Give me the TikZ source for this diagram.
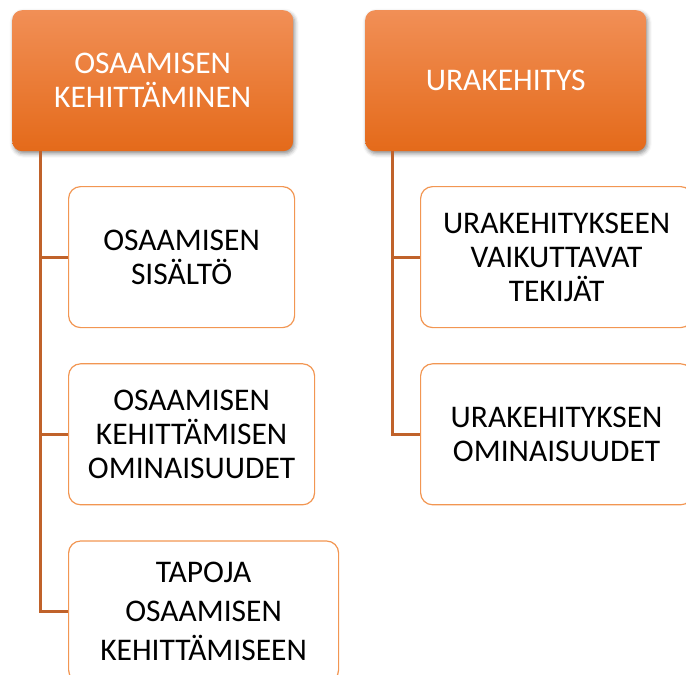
\documentclass[tikz,border=0pt]{standalone}
\usepackage{fontspec}
\setmainfont{Carlito}
\usepackage{tikz}
\usetikzlibrary{positioning,shadows,shadows.blur}
\usepackage{xcolor}
\definecolor{HeadTop}{RGB}{241,143,86}
\definecolor{HeadBottom}{RGB}{228,106,26}
\definecolor{BoxLine}{RGB}{242,150,82}
\definecolor{LinkLine}{RGB}{192,98,42}

\begin{document}
\begin{tikzpicture}[x=1pt, y=-1pt,
    head/.style={rectangle, rounded corners=10pt, top color=HeadTop, bottom color=HeadBottom,
        minimum width=281pt, minimum height=141pt, font=\fontsize{31.5}{34}\selectfont,
        align=center, text=white, anchor=north west,
        blur shadow={shadow xshift=1.5pt, shadow yshift=-2.5pt, shadow blur radius=4pt, shadow opacity=45}},
    item/.style={rectangle, rounded corners=12pt, draw=BoxLine, line width=1.2pt, fill=white,
        minimum height=141pt, font=\fontsize{31.5}{34}\selectfont, align=center, text=black},
    link/.style={LinkLine, line width=3pt},
]
\useasboundingbox (0,0) rectangle (686,675);

% Headers
\node[head] (osaaminen) at (12,10) {OSAAMISEN\\KEHITTÄMINEN};
\node[head] (ura) at (365,10) {URAKEHITYS};

% Left column
\node[item, minimum width=226pt, anchor=north west] (sisalto) at (68,186) {OSAAMISEN\\SISÄLTÖ};
\node[item, minimum width=246pt, below=35pt of sisalto.south west, anchor=north west] (ominaisuudet)
    {OSAAMISEN\\KEHITTÄMISEN\\OMINAISUUDET};
\node[item, minimum width=270pt, font=\fontsize{31.5}{39}\selectfont,
    below=35pt of ominaisuudet.south west, anchor=north west] (tapoja)
    {TAPOJA\\OSAAMISEN\\KEHITTÄMISEEN};

% Right column
\node[item, minimum width=272pt, anchor=north west] (tekijat) at (420,186)
    {URAKEHITYKSEEN\\VAIKUTTAVAT\\TEKIJÄT};
\node[item, minimum width=272pt, below=35pt of tekijat.south west, anchor=north west] (uraomin)
    {URAKEHITYKSEN\\OMINAISUUDET};

% Connectors
\coordinate (ltrunk) at ([xshift=28pt]osaaminen.south west);
\coordinate (rtrunk) at ([xshift=27pt]ura.south west);
\draw[link] (ltrunk) |- (sisalto.west);
\draw[link] (ltrunk) |- (ominaisuudet.west);
\draw[link] (ltrunk) |- (tapoja.west);
\draw[link] (rtrunk) |- (tekijat.west);
\draw[link] (rtrunk) |- (uraomin.west);
\end{tikzpicture}
\end{document}
